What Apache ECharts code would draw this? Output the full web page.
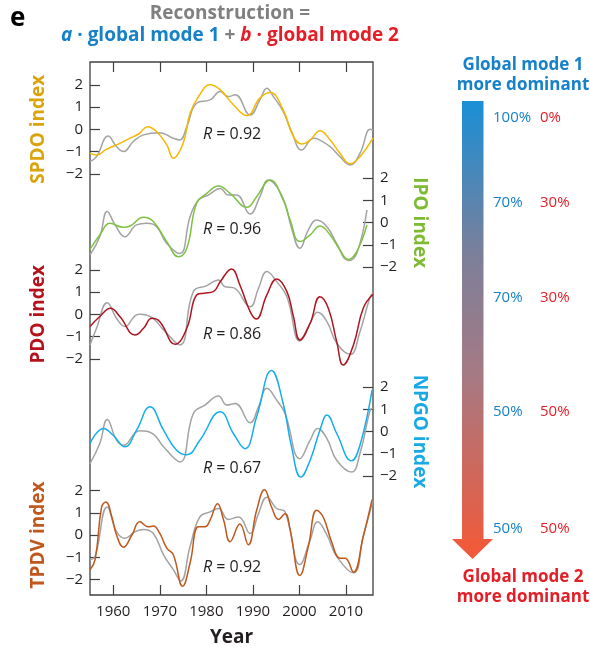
<!DOCTYPE html>
<html><head><meta charset="utf-8">
<script src="https://cdn.jsdelivr.net/npm/echarts@6/dist/echarts.min.js"></script>
<style>html,body{margin:0;padding:0;background:#fff}#c{width:590px;height:652px}</style>
</head><body><div id="c"></div>
<script>
// ---- data (year, value) ----
const spdoIndex = [[1955,-1.08],[1956.5,-1.15],[1958.5,-0.9],[1961.4,-0.63],[1963.6,-0.4],[1965.5,-0.2],[1967.4,0.12],[1969.3,-0.1],[1971.5,-0.7],[1972.9,-1.3],[1975,-0.63],[1976.5,0.72],[1978.3,1.47],[1980.8,2.0],[1983,1.77],[1985.8,1.1],[1988.7,0.62],[1991.5,1.4],[1993.7,1.65],[1996.5,0.87],[1998.7,-0.33],[2000.5,-0.66],[2002.3,-0.48],[2004.4,-0.06],[2006.6,-0.48],[2008.7,-1.08],[2010.9,-1.55],[2013,-1.23],[2015.8,-0.4]];
const spdoRecon = [[1955,-1.45],[1956.4,-1.23],[1958.9,-0.3],[1960.7,-0.78],[1962.2,-1.0],[1964.3,-0.55],[1966.5,-0.25],[1970,-0.15],[1972.9,-0.4],[1974.3,-0.48],[1975.8,0.12],[1977.9,1.17],[1980.8,1.32],[1983,1.7],[1984.7,1.47],[1986.2,1.55],[1989.4,0.64],[1991.5,1.32],[1993,1.85],[1994.4,1.47],[1996.5,0.8],[1998.3,-0.1],[2000.5,-0.93],[2003,-0.4],[2004.1,-0.45],[2006.6,-0.78],[2008.7,-1.23],[2010.9,-1.6],[2013,-1.08],[2015.2,0],[2015.8,-0.03]];
const ipoIndex = [[1955,-1.2],[1957.1,-0.55],[1959.3,-0.03],[1962.2,-0.21],[1963.6,-0.15],[1966.5,0.24],[1968.6,0.05],[1971.5,-0.85],[1974,-1.53],[1975.8,-1.15],[1977.9,0.87],[1980.1,1.32],[1982.6,1.65],[1985.1,1.32],[1988.7,0.69],[1990.8,1.17],[1993.7,1.92],[1996.5,1.02],[1998,0.12],[2000.1,-0.85],[2002.3,-0.55],[2004.4,-0.15],[2006.6,-0.55],[2008.7,-1.23],[2010.5,-1.65],[2012.3,-1.3],[2014.5,-0.1]];
const ipoRecon = [[1955,-1.45],[1957.1,-0.63],[1958.7,0.5],[1960.4,-0.1],[1962.5,-0.63],[1965,-0.1],[1967.2,-0.03],[1969.3,-0.18],[1971.5,-0.93],[1974.3,-1.38],[1976.5,0.27],[1978.3,1.02],[1980.4,1.24],[1983,1.54],[1984.7,1.24],[1986.5,1.24],[1989.4,0.39],[1991.5,1.17],[1993.3,1.92],[1995.1,1.62],[1996.9,0.87],[1998.3,-0.25],[2000.1,-1.15],[2001.9,-0.33],[2003.7,0.12],[2005.9,-0.18],[2008,-0.93],[2010.5,-1.7],[2012.3,-1.38],[2014.5,0.57]];
const pdoIndex = [[1955,-0.55],[1957.1,-0.1],[1959.4,0.27],[1961.4,-0.1],[1964.7,-0.93],[1966.5,-0.63],[1968.3,-0.18],[1970,-0.33],[1973.3,-1.35],[1975.8,-0.63],[1977.9,0.87],[1979.5,0.95],[1981.5,1.02],[1983,1.47],[1985.4,2.04],[1987.2,1.32],[1989.4,0.12],[1990.7,-0.21],[1993,0.87],[1995.1,1.59],[1997.3,1.02],[1998.7,-0.1],[2000.1,-1.15],[2002.3,-0.4],[2004.4,0.79],[2006.2,0.27],[2008,-1.23],[2009.4,-2.28],[2011.6,-1.38],[2013.7,0.27],[2015.8,0.9]];
const pdoRecon = [[1955,-1.38],[1956.4,-0.63],[1958.7,0.52],[1960.7,-0.18],[1962.5,-0.55],[1964.7,-0.06],[1965.7,0],[1968.3,-0.15],[1970.8,-0.7],[1974.3,-1.38],[1977.2,1.02],[1980.1,1.29],[1982.6,1.54],[1984,1.24],[1985.8,1.2],[1989.4,0.34],[1991.2,1.17],[1993,1.92],[1995.1,1.47],[1997.3,0.79],[2000.1,-1.2],[2002.3,-0.4],[2003.9,0.09],[2005.9,-0.33],[2008,-1.3],[2010.9,-1.8],[2013,-0.78],[2015.2,0.79],[2015.8,0.94]];
const npgoIndex = [[1955,-0.54],[1957.9,0.14],[1960,-0.17],[1962.5,-0.69],[1965,0.06],[1967.9,1.11],[1970.8,0.06],[1973.6,-0.84],[1975.8,-1.04],[1978.6,-0.39],[1983,0.89],[1985.8,-0.09],[1988.3,-0.77],[1990.8,0.66],[1994,2.74],[1996.5,1.26],[1998.3,-0.69],[2000.3,-2.05],[2002.3,-1.29],[2004.4,0.06],[2005.9,0.74],[2008,-0.09],[2011.2,-1.32],[2013,-0.62],[2015.6,1.86]];
const npgoRecon = [[1955,-1.44],[1957.1,-0.54],[1958.7,0.54],[1960.7,-0.39],[1962.2,-0.62],[1964.7,-0.06],[1965.7,0.03],[1968.6,-0.12],[1970.8,-0.69],[1974.3,-1.37],[1977.2,0.81],[1979.7,1.19],[1982.6,1.59],[1984.4,1.19],[1986.2,1.26],[1989.4,0.39],[1991.2,1.11],[1993,1.94],[1995.1,1.41],[1996.9,0.81],[2000.1,-1.22],[2002.3,-0.39],[2003.9,0.14],[2005.9,-0.32],[2008,-1.29],[2011.2,-1.82],[2013,-0.99],[2015.2,0.96],[2015.8,1.04]];
const tpdvIndex = [[1955,-1.56],[1956.1,-1.11],[1957.5,1.26],[1958.4,1.48],[1959.7,0.81],[1960.7,0],[1962.2,-0.55],[1964,0],[1965.7,0.59],[1967.5,0.37],[1968.6,0.4],[1970,0.07],[1971.5,-0.59],[1972.9,-0.89],[1974.9,-2.3],[1976.5,-1.26],[1978.3,0.37],[1979.7,0.37],[1980.8,0.67],[1982.4,1.41],[1983.7,0.67],[1985.1,-0.3],[1987.2,0.49],[1989,-0.44],[1990.8,1.11],[1992.5,2.03],[1994,1.26],[1995.5,0.7],[1996.9,0.96],[1998,0.22],[2000.1,-1.82],[2001.9,-0.52],[2003.7,1.11],[2005.1,0.81],[2006.9,-0.3],[2008.7,-1.04],[2009.8,-1.04],[2011.6,-1.67],[2013.7,-0.07],[2015.6,1.59]];
const tpdvRecon = [[1955,-1.11],[1956.1,-0.96],[1958.7,1.26],[1960.7,0.15],[1962.5,-0.15],[1964.7,0.15],[1966.5,0.25],[1968.6,0.07],[1970.8,-0.89],[1972.9,-1.56],[1974.5,-2.07],[1976.5,-0.52],[1978.6,0.81],[1980.8,1.04],[1982.6,1.19],[1984.7,0.7],[1986.9,0.81],[1989.4,0.07],[1991.2,0.96],[1993,1.7],[1995.1,1.19],[1996.9,1.04],[2000.1,-1.33],[2002.3,-0.22],[2003.9,0.59],[2005.9,0],[2008,-0.96],[2011.6,-1.7],[2013.7,-0.07],[2015.8,1.56]];
const yearTicks = [1960,1970,1980,1990,2000,2010];
const indexTicks = [-2,-1,0,1,2];
const panelNames = ['SPDO index','IPO index','PDO index','NPGO index','TPDV index'];
const correlations = ['0.92','0.96','0.86','0.67','0.92'];
const legendRows = [['100%','0%'],['70%','30%'],['70%','30%'],['50%','50%'],['50%','50%']];

// ---- layout ----
const FONT = '"Open Sans", "Noto Sans", sans-serif';
const L = 90, R = 373, TOP = 62, BOT = 602, W = R - L;
const XMIN = 1955, XMAX = 2015.8;
const UNIT = 22.25;
const zeros = [129.3, 222.7, 314.3, 431.5, 535];
const sides = ['left','right','left','right','left'];
const lineColors = ['#f5b700','#7dc242','#b0141f','#15aeea','#c0571b'];
const nameColors = ['#d9a40c','#7dbb34','#b5121b','#1aa9e5','#c0581e'];
const rY = [134, 229, 334, 468, 567];
const data = [[spdoIndex,spdoRecon],[ipoIndex,ipoRecon],[pdoIndex,pdoRecon],[npgoIndex,npgoRecon],[tpdvIndex,tpdvRecon]];
const axisCol = '#404040', txtCol = '#231f20';

const grid = [], xAxis = [], yAxis = [], series = [];
for (let i = 0; i < 5; i++) {
  grid.push({left: L, width: W, top: zeros[i] - 3*UNIT, height: 6*UNIT, show: false});
  xAxis.push({type:'value', gridIndex:i, min:XMIN, max:XMAX, show:false});
  const left = sides[i] === 'left';
  yAxis.push({
    type:'value', gridIndex:i, min:-3, max:3, position: sides[i],
    axisLine:{show:false}, splitLine:{show:false},
    axisTick:{show:true, inside:true, length:10, customValues: indexTicks, lineStyle:{color:axisCol, width:1.2}},
    axisLabel:{show:true, margin:7, customValues: indexTicks, color: txtCol, fontFamily: FONT, fontSize: 15,
      formatter: v => String(v).replace('-', '\u2212')},
    name: panelNames[i], nameLocation:'middle', nameGap: left ? 42 : 37, nameRotate: left ? 90 : -90,
    nameTextStyle:{color:nameColors[i], fontFamily:FONT, fontWeight:'bold', fontSize:19}
  });
  series.push({type:'line', xAxisIndex:i, yAxisIndex:i, data:data[i][1], smooth:0.45, showSymbol:false, symbol:'none',
    lineStyle:{color:'#a3a3a3', width:1.5}, z:2});
  series.push({type:'line', xAxisIndex:i, yAxisIndex:i, data:data[i][0], smooth:0.45, showSymbol:false, symbol:'none',
    lineStyle:{color:lineColors[i], width:1.5}, z:3});
}
// frame grid
grid.push({left:L, width:W, top:TOP, height:BOT-TOP, show:true, borderColor:axisCol, borderWidth:1.3, backgroundColor:'transparent'});
xAxis.push({type:'value', gridIndex:5, min:XMIN, max:XMAX, position:'bottom', splitLine:{show:false},
  axisLine:{show:false},
  axisTick:{show:true, inside:true, length:10, customValues:yearTicks, lineStyle:{color:axisCol, width:1.2}},
  axisLabel:{show:true, margin:9, customValues:yearTicks, color:txtCol, fontFamily:FONT, fontSize:15, formatter: v => String(v)},
  name:'Year', nameLocation:'middle', nameGap:33,
  nameTextStyle:{color:txtCol, fontFamily:FONT, fontWeight:'bold', fontSize:19}});
xAxis.push({type:'value', gridIndex:5, min:XMIN, max:XMAX, position:'top', splitLine:{show:false},
  axisLine:{show:false}, axisLabel:{show:false},
  axisTick:{show:true, inside:true, length:10, customValues:yearTicks, lineStyle:{color:axisCol, width:1.2}}});
yAxis.push({type:'value', gridIndex:5, min:0, max:1, show:false});

// graphics
const graphic = [];
graphic.push({type:'text', left:10, top:6, style:{text:'e', font:'bold 26px '+FONT, fill:'#000'}});
graphic.push({type:'text', x:230, y:14, style:{text:'Reconstruction =', font:'bold 19px '+FONT, fill:'#808080', align:'center', verticalAlign:'middle'}});
graphic.push({type:'text', x:230, y:36, style:{
  text:'{ai|a}{a| \u00b7 global mode 1 }{p|+ }{bi|b}{b| \u00b7 global mode 2}', align:'center', verticalAlign:'middle',
  rich:{ai:{font:'italic bold 19px '+FONT, fill:'#1681c8'}, a:{font:'bold 19px '+FONT, fill:'#1681c8'},
        p:{font:'bold 19px '+FONT, fill:'#808080'},
        bi:{font:'italic bold 19px '+FONT, fill:'#e41e26'}, b:{font:'bold 19px '+FONT, fill:'#e41e26'}}}});
for (let i = 0; i < 5; i++) {
  graphic.push({type:'text', x:203, y:rY[i], style:{text:'{i|R}{n| = '+correlations[i]+'}', verticalAlign:'middle',
    rich:{i:{font:'italic 16px '+FONT, fill:txtCol}, n:{font:'16px '+FONT, fill:txtCol}}}});
}
// legend arrow
graphic.push({type:'rect', shape:{x:462, y:101, width:21.5, height:439}, style:{fill:{type:'linear', x:0, y:0, x2:0, y2:1,
  colorStops:[{offset:0,color:'#1a8fd6'},{offset:0.35,color:'#7c7f9a'},{offset:0.62,color:'#a57a84'},{offset:1,color:'#ec5c40'}]}}});
graphic.push({type:'polygon', shape:{points:[[452,539],[493,539],[472.5,559]]}, style:{fill:'#ef5a3a'}});
graphic.push({type:'text', x:523, y:65, style:{text:'Global mode 1', font:'bold 17px '+FONT, fill:'#1681c8', align:'center', verticalAlign:'middle'}});
graphic.push({type:'text', x:523, y:85, style:{text:'more dominant', font:'bold 17px '+FONT, fill:'#1681c8', align:'center', verticalAlign:'middle'}});
graphic.push({type:'text', x:523, y:577, style:{text:'Global mode 2', font:'bold 17px '+FONT, fill:'#e41e26', align:'center', verticalAlign:'middle'}});
graphic.push({type:'text', x:523, y:597, style:{text:'more dominant', font:'bold 17px '+FONT, fill:'#e41e26', align:'center', verticalAlign:'middle'}});
const legY = [118, 203, 298, 412, 529];
for (let i = 0; i < 5; i++) {
  graphic.push({type:'text', x:493, y:legY[i], style:{text:legendRows[i][0], font:'15px '+FONT, fill:'#1681c8', verticalAlign:'middle'}});
  graphic.push({type:'text', x:540, y:legY[i], style:{text:legendRows[i][1], font:'15px '+FONT, fill:'#e41e26', verticalAlign:'middle'}});
}

const chart = echarts.init(document.getElementById('c'), null, {renderer:'canvas'});
chart.setOption({animation:false, backgroundColor:'#fff', grid, xAxis, yAxis, series, graphic});
</script></body></html>
